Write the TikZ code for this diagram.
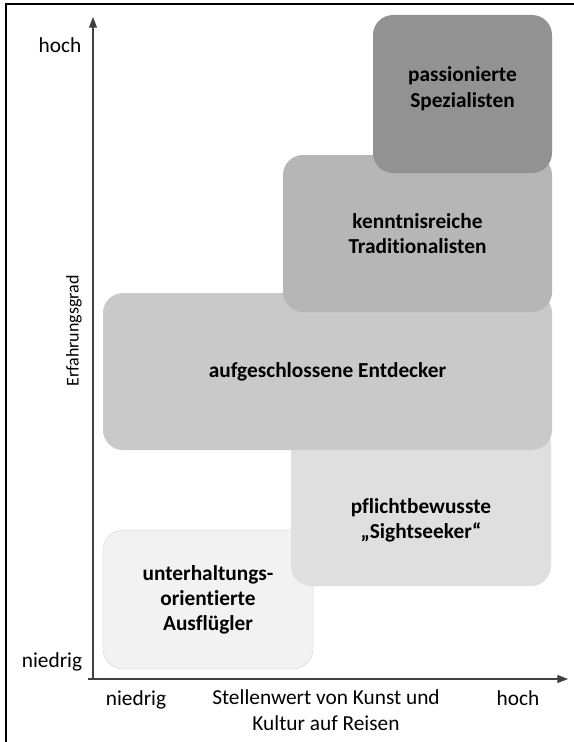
\documentclass[tikz,border=0pt]{standalone}
\usepackage{fontspec}
\setmainfont{Carlito}[Ligatures={NoCommon}]
\usetikzlibrary{arrows.meta}
\definecolor{cP}{HTML}{929292}
\definecolor{cK}{HTML}{B6B6B6}
\definecolor{cA}{HTML}{C9C9C9}
\definecolor{cS}{HTML}{DFDFDF}
\definecolor{cU}{HTML}{F2F2F2}
\definecolor{cUb}{HTML}{E4E4E4}
\definecolor{axis}{HTML}{404040}
\tikzset{
  box/.style={rounded corners=15pt, draw=none, inner sep=0pt, align=center,
    font=\fontsize{16}{18.8}\selectfont\bfseries},
  lbl/.style={inner sep=0pt, font=\fontsize{16}{18.8}\selectfont},
  axisline/.style={draw=axis, line width=0.8pt, -{Triangle[length=8pt,width=6pt]}},
}
\begin{document}
\begin{tikzpicture}[x=0.75pt,y=-0.75pt]
\useasboundingbox (0,0) rectangle (574,742);
\fill[white] (0,0) rectangle (574,742);
% frame
\draw[line width=1.5pt] (6,750) -- (6,4) -- (580,4);
% boxes (drawn from back to front)
\node[box, fill=cU, draw=cUb, line width=0.6pt, minimum width=157.5pt, minimum height=104.25pt] (U) at (208,599.5) {unterhaltungs-\\orientierte\\Ausflügler};
\node[box, fill=cS, minimum width=195pt, minimum height=120.75pt,
  label={[box, yshift=-11pt]center:pflichtbewusste\\„Sightseeker“}] (S) at (421,505.5) {};
\node[box, fill=cA, minimum width=336.75pt, minimum height=117.75pt] (A) at (327.5,371.5) {aufgeschlossene Entdecker};
\node[box, fill=cK, minimum width=201.75pt, minimum height=117.75pt] (K) at (417.5,233.5) {kenntnisreiche\\Traditionalisten};
\node[box, fill=cP, minimum width=134.25pt, minimum height=118.5pt,
  label={[box, yshift=4pt]center:passionierte\\Spezialisten}] (P) at (462.5,94) {};
% axes
\coordinate (o) at (93,680);
\coordinate (ytop) at (93,17);
\coordinate (xstart) at (88,679);
\coordinate (xend) at (568,679);
\draw[axisline] (o) -- (ytop);
\draw[axisline] (xstart) -- (xend);
% axis labels
\node[lbl, anchor=base] (yhoch) at (60,53) {hoch};
\node[lbl, anchor=base] (yniedrig) at (52,667) {niedrig};
\node[lbl, anchor=base] (xniedrig) at (136,705) {niedrig};
\node[lbl, anchor=base, align=center] (xtitle) at (326,730) {Stellenwert von Kunst und\\Kultur auf Reisen};
\node[lbl, anchor=base] (xhoch) at (518,705) {hoch};
\node[inner sep=0pt, font=\fontsize{13.5}{15}\selectfont, rotate=90] (ylab) at (74,331) {Erfahrungsgrad};
\end{tikzpicture}
\end{document}
